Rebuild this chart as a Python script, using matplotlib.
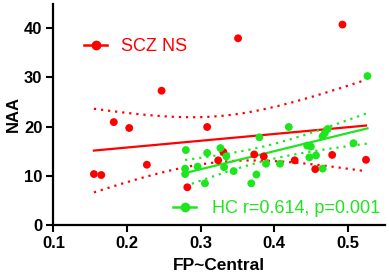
import numpy as np
import matplotlib
matplotlib.use("Agg")
import matplotlib.pyplot as plt
from matplotlib.lines import Line2D

plt.rcParams['font.family'] = ['Liberation Sans', 'DejaVu Sans']

# SCZ NS group
scz_x = [0.155, 0.165, 0.182, 0.203, 0.227, 0.247, 0.282, 0.309, 0.324, 0.331,
         0.351, 0.373, 0.386, 0.428, 0.456, 0.479, 0.493, 0.525]
scz_y = [10.3, 10.1, 20.9, 19.7, 12.2, 27.3, 7.6, 19.9, 13.1, 14.8,
         38.0, 14.3, 13.9, 13.1, 11.3, 14.2, 40.8, 13.2]

# HC group
hc_x = [0.280, 0.279, 0.279, 0.296, 0.306, 0.309, 0.327, 0.332, 0.335, 0.345,
        0.369, 0.376, 0.380, 0.389, 0.408, 0.420, 0.445, 0.450, 0.448, 0.457,
        0.466, 0.466, 0.469, 0.473, 0.508, 0.527]
hc_y = [15.2, 11.4, 10.3, 11.8, 8.4, 14.6, 15.6, 11.7, 13.9, 10.9,
        8.4, 10.2, 17.8, 12.4, 12.4, 19.9, 16.1, 15.9, 13.7, 14.1,
        11.4, 18.0, 18.7, 19.5, 16.6, 30.3]

x_ticks = [0.1, 0.2, 0.3, 0.4, 0.5]
y_ticks = [0, 10, 20, 30, 40]

RED = '#ff0000'
GREEN = '#1ee61e'

# two-sided 95% t critical values for df = n - 2
T_CRIT = {16: 2.120, 24: 2.064}


def fit_with_ci(x, y):
    x = np.asarray(x, float)
    y = np.asarray(y, float)
    n = len(x)
    b, a = np.polyfit(x, y, 1)
    resid = y - (a + b * x)
    s = np.sqrt(np.sum(resid ** 2) / (n - 2))
    xs = np.linspace(x.min(), x.max(), 100)
    yhat = a + b * xs
    se = s * np.sqrt(1.0 / n + (xs - x.mean()) ** 2 / np.sum((x - x.mean()) ** 2))
    t = T_CRIT[n - 2]
    return xs, yhat, yhat - t * se, yhat + t * se


fig = plt.figure(figsize=(3.89, 2.79), dpi=100)
ax = fig.add_axes([0.1375, 0.1953, 0.8525, 0.7904])

dot = (0, (1, 2.2))
for x, y, c in [(scz_x, scz_y, RED), (hc_x, hc_y, GREEN)]:
    xs, yh, lo, hi = fit_with_ci(x, y)
    ax.plot(xs, yh, color=c, lw=1.6, zorder=2)
    ax.plot(xs, lo, color=c, lw=1.6, linestyle=dot, zorder=2)
    ax.plot(xs, hi, color=c, lw=1.6, linestyle=dot, zorder=2)

ax.scatter(scz_x, scz_y, s=32, color=RED, edgecolors='none', zorder=3)
ax.scatter(hc_x, hc_y, s=32, color=GREEN, edgecolors='none', zorder=3)

ax.set_xlim(0.1, 0.551)
ax.set_ylim(0, 45)
ax.set_xticks(x_ticks)
ax.set_yticks(y_ticks)
ax.set_xticklabels([f"{v:.1f}" for v in x_ticks], fontsize=12, fontweight='bold')
ax.set_yticklabels([str(v) for v in y_ticks], fontsize=12, fontweight='bold')
ax.tick_params(width=1.5, length=5, direction='out', pad=3)
for side in ['top', 'right']:
    ax.spines[side].set_visible(False)
for side in ['left', 'bottom']:
    ax.spines[side].set_linewidth(1.6)

ax.set_xlabel('FP~Central', fontsize=12.5, fontweight='bold', labelpad=5)
ax.set_ylabel('NAA', fontsize=12, fontweight='bold', labelpad=2)

h_red = Line2D([], [], color=RED, lw=1.8, marker='o', markersize=6)
h_green = Line2D([], [], color=GREEN, lw=1.8, marker='o', markersize=6)
leg1 = ax.legend([h_red], ['SCZ NS'], loc='center left', bbox_to_anchor=(0.092, 0.807),
                 frameon=False, fontsize=13, borderpad=0, borderaxespad=0,
                 handlelength=1.3, handletextpad=0.75, labelcolor=RED)
ax.add_artist(leg1)
ax.legend([h_green], ['HC r=0.614, p=0.001'], loc='center left',
          bbox_to_anchor=(0.360, 0.0726), frameon=False, fontsize=13, borderpad=0,
          borderaxespad=0, handlelength=1.3, handletextpad=0.85, labelcolor=GREEN)

fig.savefig('out.png', dpi=100)
